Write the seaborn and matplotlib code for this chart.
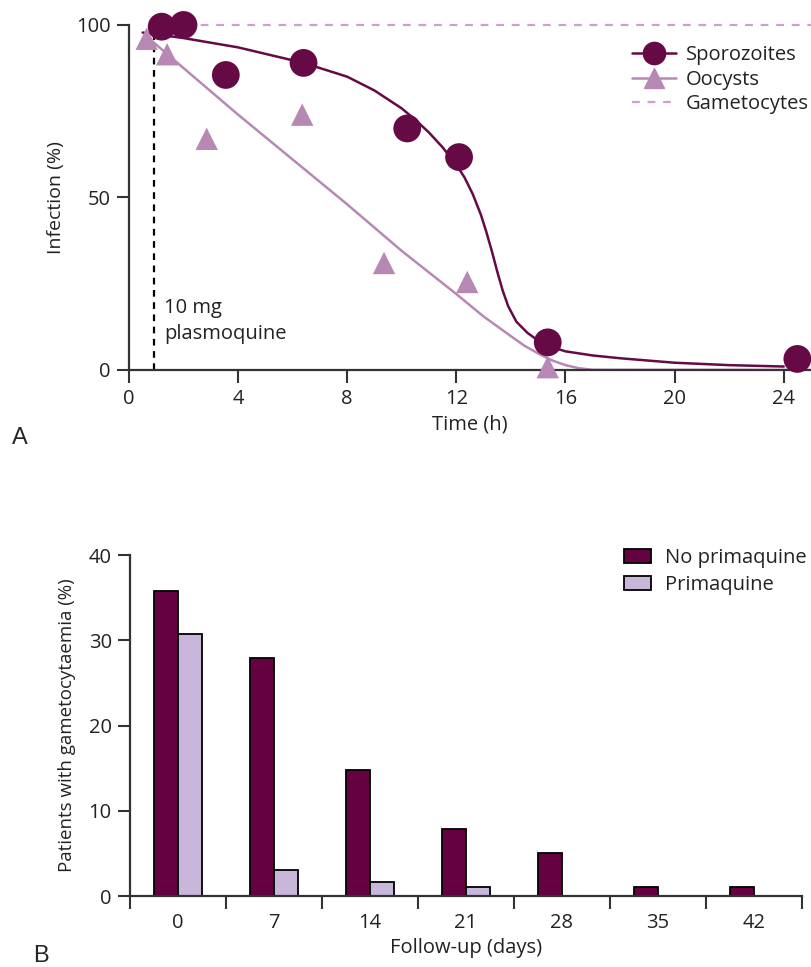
import numpy as np
import pandas as pd
import matplotlib
matplotlib.use("Agg")
import matplotlib.pyplot as plt
from matplotlib.lines import Line2D
from matplotlib.patches import Patch
import seaborn as sns

sns.set_theme(style="ticks")
plt.rcParams['font.family'] = ['Open Sans', 'DejaVu Sans']

# ---- Panel A: infectivity after plasmoquine ----
spz_time = [1.2, 2.0, 3.55, 6.4, 10.2, 12.1, 15.35, 24.5]
spz_inf = [99.5, 100, 85.5, 89, 70, 61.7, 8, 3.2]

ooc_time = [0.65, 1.4, 2.85, 6.35, 9.35, 12.4, 15.35]
ooc_inf = [96, 91.5, 67, 74, 31, 25.5, 0.8]

# fitted curves
spz_fit_t = [0.5, 2, 4, 6.4, 8, 9, 10, 10.5, 11, 11.5, 12, 12.3, 12.6, 12.9, 13.1, 13.3,
             13.5, 13.7, 13.9, 14.2, 14.6, 15.0, 15.4, 16, 17, 18, 20, 22, 24]
spz_fit_y = [97.8, 96.2, 93.5, 89.0, 85.0, 81.0, 75.8, 72.5, 68.8, 64.5, 59.5, 55.8, 51.0,
             45.0, 40.0, 34.5, 28.5, 23.0, 18.5, 14.0, 10.8, 8.5, 6.9, 5.4, 4.2, 3.4, 2.1, 1.4, 1.0]

ooc_fit_t = [0.6, 2, 4, 6, 8, 10, 12, 13, 14, 14.5, 15, 15.5, 16, 16.5, 17, 25]
ooc_fit_y = [97, 87.5, 74, 61, 48, 34.5, 22, 15.5, 9.8, 7.0, 4.8, 2.8, 1.4, 0.5, 0.05, 0]

gam_t = [0.9, 25]
gam_y = [100, 100]

dose_time = 0.9

# ---- Panel B: gametocytaemia during follow-up ----
days = ["0", "7", "14", "21", "28", "35", "42"]
no_prim = [35.8, 27.9, 14.8, 7.9, 5.0, 1.0, 1.0]
prim = [30.7, 3.1, 1.7, 1.1, 0, 0, 0]

dark = "#660A45"
light = "#B888B5"
gam_col = "#C9A2C6"
bar_dark = "#650041"
bar_light = "#C8B7DA"
axis_col = "#333333"
text_col = "#222222"
fs = 14.5

fig = plt.figure(figsize=(8.11, 9.67), dpi=100)
axA = fig.add_axes([0.159, 0.6174, 0.841, 0.3568])
axB = fig.add_axes([0.160, 0.0734, 0.829, 0.3526])

# curves
sns.lineplot(x=spz_fit_t, y=spz_fit_y, ax=axA, color=dark, lw=1.8)
sns.lineplot(x=ooc_fit_t, y=ooc_fit_y, ax=axA, color=light, lw=1.8)
axA.plot(gam_t, gam_y, color=gam_col, lw=1.6, ls=(0, (3.5, 3.5)), clip_on=False)
axA.plot([dose_time, dose_time], [0, 99], color="black", lw=1.6, ls=(0, (3, 2.5)))

sns.scatterplot(x=ooc_time, y=ooc_inf, ax=axA, marker="^", s=260, color=light,
                edgecolor="none", clip_on=False, zorder=4)
sns.scatterplot(x=spz_time, y=spz_inf, ax=axA, marker="o", s=400, color=dark,
                edgecolor="none", clip_on=False, zorder=5)

axA.text(1.3, 18, "10 mg", fontsize=fs, va="center", ha="left", color=text_col)
axA.text(1.3, 10.5, "plasmoquine", fontsize=fs, va="center", ha="left", color=text_col)

axA.set_xlim(0, 25)
axA.set_ylim(0, 100)
axA.set_xticks([0, 4, 8, 12, 16, 20, 24])
axA.set_yticks([0, 50, 100])
axA.set_xlabel("Time (h)", fontsize=fs, labelpad=4, color=text_col)
axA.set_ylabel("Infection (%)", fontsize=14, labelpad=8, color=text_col)
axA.tick_params(labelsize=fs, width=1.5, length=9, direction="out", color=axis_col,
                labelcolor=text_col)
axA.tick_params(axis="x", pad=5)
axA.tick_params(axis="y", pad=4)
sns.despine(ax=axA)
for s in ["left", "bottom"]:
    axA.spines[s].set_linewidth(1.6)
    axA.spines[s].set_color(axis_col)

hA = [Line2D([], [], color=dark, marker="o", markersize=16, lw=1.8),
      Line2D([], [], color=light, marker="^", markersize=14, lw=1.8),
      Line2D([], [], color=gam_col, lw=1.6, ls=(0, (3.5, 3.5)))]
axA.legend(hA, ["Sporozoites", "Oocysts", "Gametocytes"], loc="upper right",
           bbox_to_anchor=(1.012, 0.97), frameon=False, fontsize=fs,
           handlelength=2.2, handletextpad=0.5, labelspacing=0.22, borderaxespad=0.1,
           labelcolor=text_col)

# bars
df = pd.DataFrame({
    "day": days * 2,
    "pct": no_prim + prim,
    "group": ["No primaquine"] * len(days) + ["Primaquine"] * len(days),
})
sns.barplot(data=df, x="day", y="pct", hue="group", ax=axB,
            palette=[bar_dark, bar_light], width=0.5, edgecolor="black",
            linewidth=1.3, legend=False, saturation=1)
axB.set_xlim(-0.5, 6.5)
axB.set_ylim(0, 40)
axB.set_yticks([0, 10, 20, 30, 40])
axB.set_xticks(np.arange(-0.5, 7, 1), minor=True)
axB.tick_params(axis="x", which="major", length=0, pad=12)
axB.tick_params(axis="x", which="minor", length=9, width=1.5, color=axis_col)
axB.tick_params(axis="y", length=9, width=1.5, color=axis_col, pad=4)
axB.tick_params(labelsize=fs, labelcolor=text_col)
axB.set_xlabel("Follow-up (days)", fontsize=fs, labelpad=4, color=text_col)
axB.set_ylabel("Patients with gametocytaemia (%)", fontsize=13.5, labelpad=9, color=text_col)
sns.despine(ax=axB)
for s in ["left", "bottom"]:
    axB.spines[s].set_linewidth(1.6)
    axB.spines[s].set_color(axis_col)

hB = [Patch(facecolor=bar_dark, edgecolor="black", lw=1.3),
      Patch(facecolor=bar_light, edgecolor="black", lw=1.3)]
axB.legend(hB, ["No primaquine", "Primaquine"], loc="upper right",
           bbox_to_anchor=(1.033, 1.074), frameon=False, fontsize=fs,
           handlelength=1.35, handleheight=0.75, handletextpad=0.65, labelspacing=0.35,
           labelcolor=text_col)

fig.text(12 / 811, 1 - 438 / 967, "A", fontsize=17, family="Liberation Sans", va="center")
fig.text(33 / 811, 1 - 956 / 967, "B", fontsize=17, family="Liberation Sans", va="center")

fig.savefig("out.png", dpi=100)
